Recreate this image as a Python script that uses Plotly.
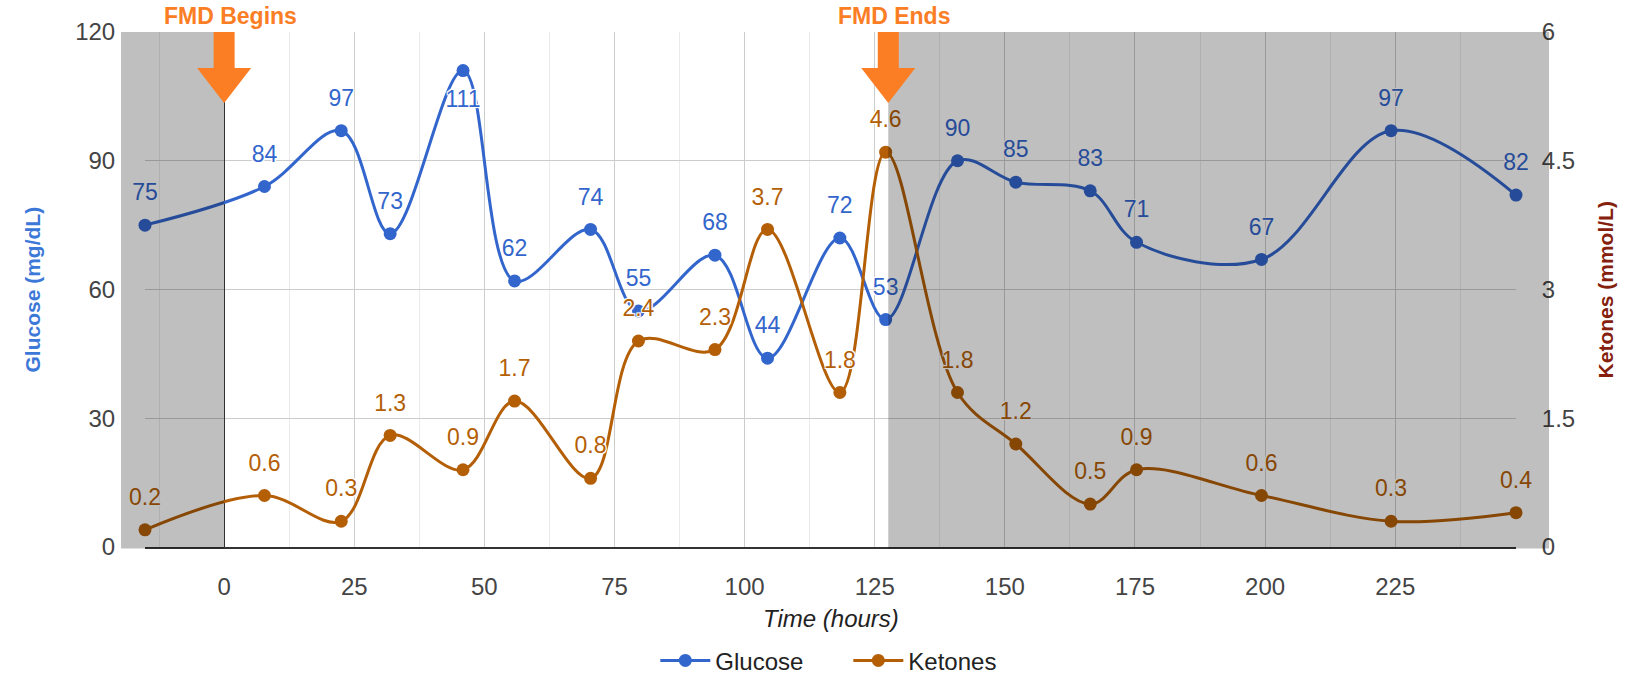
import plotly.graph_objects as go

# ---------------- data ----------------
HOURS = [-15.2, 7.75, 22.5, 31.9, 45.9, 55.8, 70.4, 79.6, 94.3, 104.4, 118.3,
         127.1, 140.9, 152.1, 166.4, 175.3, 199.3, 224.2, 248.2]
GLUCOSE = [75, 84, 97, 73, 111, 62, 74, 55, 68, 44, 72, 53, 90, 85, 83, 71, 67, 97, 82]
KETONES = [0.2, 0.6, 0.3, 1.3, 0.9, 1.7, 0.8, 2.4, 2.3, 3.7, 1.8, 4.6, 1.8, 1.2,
           0.5, 0.9, 0.6, 0.3, 0.4]
FMD_BEGIN = 0
FMD_END = 127.6
X_TICKS = [0, 25, 50, 75, 100, 125, 150, 175, 200, 225]
Y1_TICKS = [0, 30, 60, 90, 120]
Y2_TICKS = [0, 1.5, 3, 4.5, 6]

# ---------------- style ----------------
FONT = "Arial, 'Liberation Sans', sans-serif"
BLUE = "#3366cc"
BROWN = "#b45f06"
BLUE_TITLE = "#3c78d8"
RED_TITLE = "#85200c"
ARROW = "#fb7d24"
TICK_COLOR = "#444444"
HALO = "1px 1px 0 #fff, -1px -1px 0 #fff, 1px -1px 0 #fff, -1px 1px 0 #fff, 0 0 3px #fff"

X_RANGE = [min(HOURS), max(HOURS)]
Y1_RANGE = [Y1_TICKS[0], Y1_TICKS[-1]]
Y2_RANGE = [Y2_TICKS[0], Y2_TICKS[-1]]


def xpaper(h):
    return (h - X_RANGE[0]) / (X_RANGE[1] - X_RANGE[0])


fig = go.Figure()

fig.add_trace(go.Scatter(
    x=HOURS, y=GLUCOSE, name="Glucose", mode="lines+markers", cliponaxis=False,
    line=dict(color=BLUE, width=3, shape="spline", smoothing=1),
    marker=dict(size=13, color=BLUE), yaxis="y", hoverinfo="skip"))
fig.add_trace(go.Scatter(
    x=HOURS, y=KETONES, name="Ketones", mode="lines+markers", cliponaxis=False,
    line=dict(color=BROWN, width=3, shape="spline", smoothing=1),
    marker=dict(size=13, color=BROWN), yaxis="y2", hoverinfo="skip"))

# value labels (invisible big markers push text away from points)
g_pos = ["bottom center" if v > 0.85 * Y1_RANGE[1] else "top center" for v in GLUCOSE]
fig.add_trace(go.Scatter(
    x=HOURS, y=GLUCOSE, mode="markers+text", showlegend=False, hoverinfo="skip",
    cliponaxis=False, marker=dict(size=29, color="rgba(0,0,0,0)"),
    text=[str(v) for v in GLUCOSE], textposition=g_pos,
    textfont=dict(family=FONT, size=23, color=BLUE, shadow=HALO), yaxis="y"))
fig.add_trace(go.Scatter(
    x=HOURS, y=KETONES, mode="markers+text", showlegend=False, hoverinfo="skip",
    cliponaxis=False, marker=dict(size=29, color="rgba(0,0,0,0)"),
    text=[f"{v:.1f}" for v in KETONES], textposition="top center",
    textfont=dict(family=FONT, size=23, color=BROWN, shadow=HALO), yaxis="y2"))

shapes = [
    # darkening overlays (outside the FMD window)
    dict(type="rect", xref="paper", yref="paper", x0=-0.0175, x1=xpaper(FMD_BEGIN),
         y0=-0.003, y1=1.0, fillcolor="rgba(0,0,0,0.25)", line=dict(width=0), layer="above"),
    dict(type="rect", xref="paper", yref="paper", x0=xpaper(FMD_END), x1=1.0241,
         y0=-0.003, y1=1.0, fillcolor="rgba(0,0,0,0.25)", line=dict(width=0), layer="above"),
]
arrow_path = "M -10.5,0 L 10.5,0 L 10.5,-36 L 27,-36 L 0,-71 L -27,-36 L -10.5,-36 Z"
for h in (FMD_BEGIN, FMD_END):
    shapes.append(dict(type="path", xref="x", yref="paper", xsizemode="pixel",
                       ysizemode="pixel", xanchor=h, yanchor=1, path=arrow_path,
                       fillcolor=ARROW, line=dict(width=0), layer="above"))

annotations = [
    dict(text="<b>FMD Begins</b>", x=FMD_BEGIN, xref="x", y=1.031, yref="paper",
         xanchor="center", yanchor="middle", xshift=6, showarrow=False,
         font=dict(family=FONT, size=23, color=ARROW)),
    dict(text="<b>FMD Ends</b>", x=FMD_END, xref="x", y=1.031, yref="paper",
         xanchor="center", yanchor="middle", xshift=6, showarrow=False,
         font=dict(family=FONT, size=23, color=ARROW)),
    dict(text="<b>Glucose (mg/dL)</b>", x=-0.0817, xref="paper", y=0.5, yref="paper",
         textangle=-90, xanchor="center", yanchor="middle", showarrow=False,
         font=dict(family=FONT, size=21, color=BLUE_TITLE)),
    dict(text="<b>Ketones (mmol/L)</b>", x=1.0656, xref="paper", y=0.5, yref="paper",
         textangle=-90, xanchor="center", yanchor="middle", showarrow=False,
         font=dict(family=FONT, size=21, color=RED_TITLE)),
    dict(text="<i>Time (hours)</i>", x=0.5, xref="paper", y=-0.1398, yref="paper",
         xanchor="center", yanchor="middle", showarrow=False,
         font=dict(family=FONT, size=24, color="#222222")),
]

fig.update_layout(
    width=1634, height=686, autosize=False,
    margin=dict(l=145, r=118, t=32, b=139, pad=0, autoexpand=False),
    paper_bgcolor="white", plot_bgcolor="white",
    font=dict(family=FONT, size=24, color=TICK_COLOR),
    showlegend=True,
    legend=dict(orientation="h", x=0.513, xanchor="center", y=-0.221, yanchor="middle",
                font=dict(family=FONT, size=24, color="#222222"),
                bgcolor="rgba(0,0,0,0)", itemwidth=50,
                entrywidth=128, entrywidthmode="pixels"),
    xaxis=dict(range=X_RANGE, tickvals=X_TICKS, showgrid=True, gridcolor="#cccccc",
               gridwidth=1, minor=dict(dtick=12.5, tick0=0, showgrid=True,
                                      gridcolor="#ebebeb", gridwidth=1),
               zeroline=True, zerolinecolor="#333333", zerolinewidth=1,
               showline=True, linecolor="#333333", linewidth=2, automargin=False,
               ticks="outside", ticklen=17, tickcolor="rgba(0,0,0,0)",
               tickfont=dict(family=FONT, size=24, color=TICK_COLOR)),
    yaxis=dict(range=Y1_RANGE, tickvals=Y1_TICKS, showgrid=True, gridcolor="#cccccc",
               gridwidth=1, zeroline=False, showline=False, automargin=False,
               ticks="outside", ticklen=24, tickcolor="rgba(0,0,0,0)",
               tickfont=dict(family=FONT, size=24, color=TICK_COLOR)),
    yaxis2=dict(range=Y2_RANGE, tickvals=Y2_TICKS, overlaying="y", side="right",
                showgrid=False, zeroline=False, showline=False, automargin=False,
                ticks="outside", ticklen=20, tickcolor="rgba(0,0,0,0)",
                tickfont=dict(family=FONT, size=24, color=TICK_COLOR)),
    shapes=shapes, annotations=annotations,
)

fig.write_html("out.html")
